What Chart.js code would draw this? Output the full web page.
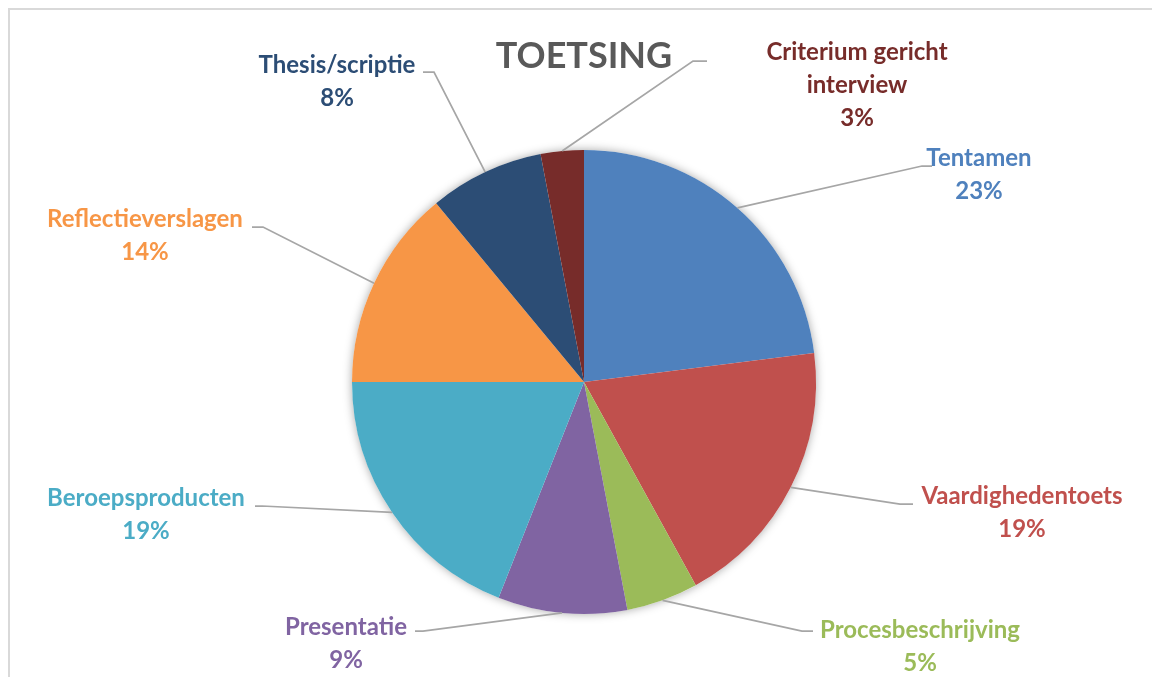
<!DOCTYPE html>
<html>
<head>
<meta charset="utf-8">
<script src="https://cdn.jsdelivr.net/npm/chart.js@4"></script>
<style>
  body { margin: 0; background: #fff; }
  #wrap { width: 1152px; height: 677px; position: relative; }
</style>
</head>
<body>
<div id="wrap"><canvas id="pieChart"></canvas></div>
<script>
// data
const chartTitle = "TOETSING";
const categories = ["Tentamen", "Vaardighedentoets", "Procesbeschrijving", "Presentatie",
    "Beroepsproducten", "Reflectieverslagen", "Thesis/scriptie", ["Criterium gericht", "interview"]];
const percentages = [23, 19, 5, 9, 19, 14, 8, 3];
const sliceColors = ["#4F81BD", "#C0504D", "#9BBB59", "#8064A2", "#4BACC6", "#F79646", "#2C4D75", "#772C2A"];

// where the labels sit (center of first text line) and where their leader lines end
const labelSpots = [[979, 158], [1022, 496], [920, 630], [346, 627], [146, 498], [145, 219], [337, 65], [857, 52]];
const leaderEnds = [[932, 166, 922], [913, 504, 900], [813, 631, 802], [415, 631, 423],
    [255, 506, 262], [252, 227, 263], [423, 72, 434], [707, 61, 693]];

const FONT = "Lato, 'Open Sans', sans-serif";

const decor = {
    id: "decor",
    beforeDraw(chart) {
        const ctx = chart.ctx;
        ctx.save();
        // chart frame (Excel style)
        ctx.strokeStyle = "#d9d9d9";
        ctx.lineWidth = 2;
        ctx.beginPath();
        ctx.moveTo(9, 677);
        ctx.lineTo(9, 9);
        ctx.lineTo(1152, 9);
        ctx.stroke();
        // title
        ctx.fillStyle = "#595959";
        ctx.font = "bold 36px " + FONT;
        ctx.textAlign = "center";
        ctx.textBaseline = "middle";
        ctx.fillText(chartTitle, 584, 56);
        ctx.restore();
    },
    beforeDatasetsDraw(chart) {
        // soft shadow round the pie
        const arc = chart.getDatasetMeta(0).data[0];
        const ctx = chart.ctx;
        ctx.save();
        ctx.shadowColor = "rgba(0,0,0,0.35)";
        ctx.shadowBlur = 10;
        ctx.fillStyle = "#fff";
        ctx.beginPath();
        ctx.arc(arc.x, arc.y, arc.outerRadius, 0, Math.PI * 2);
        ctx.fill();
        ctx.restore();
    },
    afterDatasetsDraw(chart) {
        const ctx = chart.ctx;
        const meta = chart.getDatasetMeta(0);
        ctx.save();
        meta.data.forEach((arc, i) => {
            const mid = (arc.startAngle + arc.endAngle) / 2;
            const sx = arc.x + Math.cos(mid) * arc.outerRadius;
            const sy = arc.y + Math.sin(mid) * arc.outerRadius;
            const [ex, ey, bx] = leaderEnds[i];
            ctx.strokeStyle = "#a6a6a6";
            ctx.lineWidth = 1.75;
            ctx.beginPath();
            ctx.moveTo(sx, sy);
            ctx.lineTo(bx, ey);
            ctx.lineTo(ex, ey);
            ctx.stroke();

            const lines = [].concat(categories[i], percentages[i] + "%");
            ctx.fillStyle = sliceColors[i];
            ctx.font = "bold 24px " + FONT;
            ctx.textAlign = "center";
            ctx.textBaseline = "middle";
            lines.forEach((t, k) => ctx.fillText(t, labelSpots[i][0], labelSpots[i][1] + k * 33));
        });
        ctx.restore();
    }
};

new Chart(document.getElementById("pieChart"), {
    type: "pie",
    data: {
        labels: categories,
        datasets: [{
            data: percentages,
            backgroundColor: sliceColors,
            borderWidth: 0
        }]
    },
    options: {
        responsive: true,
        maintainAspectRatio: false,
        animation: false,
        layout: { padding: { top: 150, bottom: 63, left: 352, right: 336 } },
        plugins: {
            legend: { display: false },
            tooltip: { enabled: false }
        }
    },
    plugins: [decor]
});
</script>
</body>
</html>
